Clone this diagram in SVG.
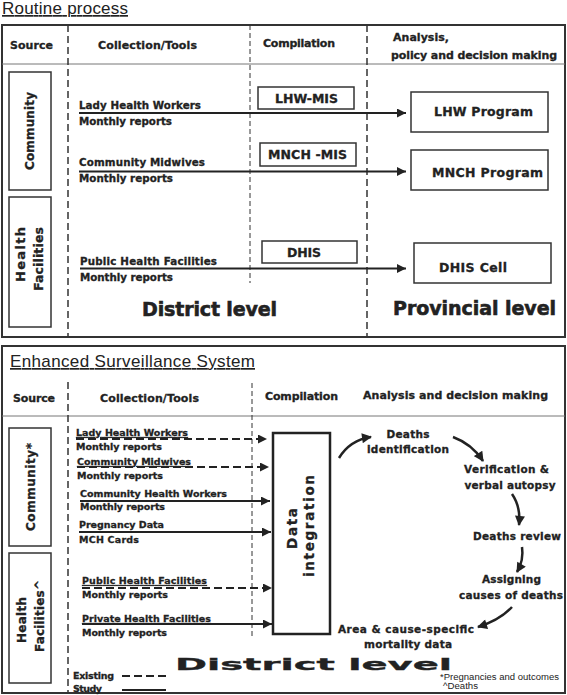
<svg xmlns="http://www.w3.org/2000/svg" width="567" height="695" viewBox="0 0 567 695">
<style>
.b{font-family:"DejaVu Sans","Liberation Sans",sans-serif;font-weight:bold;fill:#222;stroke:#222;stroke-width:0.3}
.h{font-size:11px}
.s{font-size:9.5px}
.st{font-size:10.3px}
.m{font-size:10.5px}
.l{font-size:12.5px}
.big{font-size:19px;stroke-width:0.6}
.r{font-family:"Liberation Sans",Arial,sans-serif;fill:#222}
.ttl{font-size:17px;text-decoration:underline}
.u{text-decoration:underline}
.frame{fill:none;stroke:#333;stroke-width:2}
.hline{stroke:#777;stroke-width:1}
.d1{stroke:#333;stroke-width:1.5;stroke-dasharray:7 4}
.d2{stroke:#333;stroke-width:1;stroke-dasharray:5 3}
.box{fill:#fff;stroke:#333;stroke-width:1.5}
.ln{fill:none;stroke:#222;stroke-width:2}
.dl{fill:none;stroke:#222;stroke-width:2;stroke-dasharray:8 4}
.cv{fill:none;stroke:#222;stroke-width:2.5}
</style>
<defs>
<marker id="ah" viewBox="0 0 10 10" refX="10" refY="5" markerUnits="userSpaceOnUse" markerWidth="9" markerHeight="9" orient="auto">
<path d="M0,0 L10,5 L0,10 Z" fill="#222"/>
</marker>
<marker id="ac" viewBox="0 0 10 10" refX="9" refY="5" markerUnits="userSpaceOnUse" markerWidth="11" markerHeight="10" orient="auto">
<path d="M0,0 L10,5 L0,10 Z" fill="#222"/>
</marker>
</defs>
<rect width="567" height="695" fill="#fff"/>

<!-- ===== Routine process ===== -->
<g id="routine-frame">
<text class="r ttl" x="2" y="14" textLength="126">Routine process</text>
<rect class="frame" x="2" y="25" width="563" height="312"/>
<line class="hline" x1="2" y1="64" x2="565" y2="64"/>
<line class="d1" x1="68" y1="25" x2="68" y2="337"/>
<line class="d2" x1="250" y1="25" x2="250" y2="283"/>
<line class="d1" x1="367" y1="25" x2="367" y2="337"/>
<text class="b h" x="10" y="49" textLength="43">Source</text>
<text class="b h" x="98" y="49" textLength="99">Collection/Tools</text>
<text class="b h" x="263" y="47" textLength="72">Compilation</text>
<text class="b h" x="393" y="41" textLength="56">Analysis,</text>
<text class="b h" x="391" y="59" textLength="166">policy and decision making</text>
<text class="b big" x="142" y="316" textLength="135">District level</text>
<text class="b big" x="393" y="315" textLength="163">Provincial level</text>
</g>

<g id="r-community">
<rect class="box" x="9" y="72" width="42" height="118"/>
<text class="b" font-size="12" transform="translate(34,131) rotate(-90)" text-anchor="middle" textLength="78">Community</text>
</g>
<g id="r-health">
<rect class="box" x="9" y="197" width="42" height="130"/>
<text class="b" font-size="13" transform="translate(25,254.5) rotate(-90)" text-anchor="middle" textLength="55">Health</text>
<text class="b" font-size="12.5" transform="translate(43,259) rotate(-90)" text-anchor="middle" textLength="64">Facilities</text>
</g>

<g id="r-lhw-src">
<text class="b st" x="79" y="109" textLength="122">Lady Health Workers</text>
<text class="b st" x="79" y="125" textLength="93">Monthly reports</text>
</g>
<g id="r-cm-src">
<text class="b st" x="79" y="166" textLength="126">Community Midwives</text>
<text class="b st" x="79" y="182" textLength="94">Monthly reports</text>
</g>
<g id="r-phf-src">
<text class="b st" x="80" y="265" textLength="137">Public Health Facilities</text>
<text class="b st" x="80" y="281" textLength="93">Monthly reports</text>
</g>

<g id="r-lhwmis">
<rect class="box" x="258" y="87" width="96" height="22"/>
<text class="b l" x="306.5" y="103" text-anchor="middle" textLength="63">LHW-MIS</text>
</g>
<g id="r-mnchmis">
<rect class="box" x="260" y="143" width="96" height="23"/>
<text class="b l" x="307.5" y="159" text-anchor="middle" textLength="79">MNCH -MIS</text>
</g>
<g id="r-dhis">
<rect class="box" x="262" y="241" width="95" height="22"/>
<text class="b l" x="304" y="257" text-anchor="middle" textLength="34">DHIS</text>
</g>
<g id="r-lhwprog">
<rect class="box" x="411" y="92" width="137" height="40"/>
<text class="b l" x="483.5" y="116" text-anchor="middle" textLength="99">LHW Program</text>
</g>
<g id="r-mnchprog">
<rect class="box" x="411" y="150" width="137" height="40"/>
<text class="b l" x="487.5" y="177" text-anchor="middle" textLength="111">MNCH Program</text>
</g>
<g id="r-dhiscell">
<rect class="box" x="414" y="243" width="137" height="40"/>
<text class="b l" x="473" y="272" text-anchor="middle" textLength="68">DHIS Cell</text>
</g>

<!-- ===== Enhanced Surveillance System ===== -->
<g id="ess-frame">
<rect class="frame" x="2" y="346" width="563" height="347"/>
<text class="r ttl" x="10" y="367" textLength="245">Enhanced Surveillance System</text>
<line class="hline" x1="2" y1="416" x2="565" y2="416"/>
<line class="d1" x1="68" y1="382" x2="68" y2="692"/>
<line class="d2" x1="252" y1="383" x2="252" y2="637"/>
<text class="b h" x="13" y="402" textLength="42">Source</text>
<text class="b h" x="100" y="402" textLength="99">Collection/Tools</text>
<text class="b h" x="265" y="400" textLength="73">Compilation</text>
<text class="b h" x="363" y="399" textLength="185">Analysis and decision making</text>
<text class="b" font-size="15.5" stroke-width="0.9" x="175" y="670" textLength="277" lengthAdjust="spacingAndGlyphs">District level</text>
<text class="r" font-size="8.5" x="440" y="680" textLength="119" lengthAdjust="spacingAndGlyphs">*Pregnancies and outcomes</text>
<text class="r" font-size="8.5" x="443" y="689" textLength="35" lengthAdjust="spacingAndGlyphs">^Deaths</text>
</g>

<g id="legend">
<text class="b s" x="73" y="679" textLength="41">Existing</text>
<line class="dl" x1="122" y1="676" x2="166" y2="676" stroke-dasharray="7 4"/>
<text class="b s" x="73" y="692" textLength="29">Study</text>
<line class="ln" x1="122" y1="690" x2="166" y2="690"/>
</g>

<g id="e-community">
<rect class="box" x="9" y="428" width="42" height="118"/>
<text class="b" font-size="12" transform="translate(35,487) rotate(-90)" text-anchor="middle" textLength="88">Community*</text>
</g>
<g id="e-health">
<rect class="box" x="9" y="553" width="42" height="130"/>
<text class="b" font-size="12" transform="translate(26,620) rotate(-90)" text-anchor="middle" textLength="46">Health</text>
<text class="b" font-size="12" transform="translate(44,616) rotate(-90)" text-anchor="middle" textLength="72">Facilities^</text>
</g>

<g id="e-lhw-src">
<text class="b s u" x="76" y="436" textLength="112">Lady Health Workers</text>
<text class="b s" x="76" y="450" textLength="86">Monthly reports</text>
</g>
<g id="e-cm-src">
<text class="b s u" x="77" y="465" textLength="114">Community Midwives</text>
<text class="b s" x="77" y="479" textLength="86">Monthly reports</text>
</g>
<g id="e-chw-src">
<text class="b s" x="80" y="497" textLength="147">Community Health Workers</text>
<text class="b s" x="80" y="510" textLength="85">Monthly reports</text>
</g>
<g id="e-preg-src">
<text class="b s" x="79" y="528" textLength="85">Pregnancy Data</text>
<text class="b s" x="79" y="543" textLength="60">MCH Cards</text>
</g>
<g id="e-phf-src">
<text class="b s u" x="82" y="584" textLength="125">Public Health Facilities</text>
<text class="b s" x="82" y="598" textLength="86">Monthly reports</text>
</g>
<g id="e-prhf-src">
<text class="b s u" x="82" y="622" textLength="129">Private Health Facilities</text>
<text class="b s" x="82" y="636" textLength="85">Monthly reports</text>
</g>

<g id="e-data-integration">
<rect x="273" y="433" width="57" height="201" fill="#fff" stroke="#222" stroke-width="2.5"/>
<text class="b" font-size="13.5" transform="translate(297,528.5) rotate(-90)" text-anchor="middle" textLength="41">Data</text>
<text class="b" font-size="13.5" transform="translate(314,526) rotate(-90)" text-anchor="middle" textLength="102">integration</text>
</g>

<g id="e-deaths-id">
<text class="b m" x="408" y="438" text-anchor="middle" textLength="43">Deaths</text>
<text class="b m" x="408" y="453" text-anchor="middle" textLength="82">identification</text>
</g>
<g id="e-verification">
<text class="b m" x="506.5" y="473" text-anchor="middle" textLength="85">Verification &amp;</text>
<text class="b m" x="510" y="489" text-anchor="middle" textLength="91">verbal autopsy</text>
</g>
<g id="e-review">
<text class="b m" x="517" y="540" text-anchor="middle" textLength="88">Deaths review</text>
</g>
<g id="e-assigning">
<text class="b m" x="511.5" y="583" text-anchor="middle" textLength="59">Assigning</text>
<text class="b m" x="511" y="599" text-anchor="middle" textLength="104">causes of deaths</text>
</g>
<g id="e-mortality">
<text class="b m" x="406" y="633" text-anchor="middle" textLength="136">Area &amp; cause-specific</text>
<text class="b m" x="408" y="648" text-anchor="middle" textLength="88">mortality data</text>
</g>

<g id="connectors">
<line class="ln" x1="79" y1="113" x2="406" y2="113" marker-end="url(#ah)"/>
<line class="ln" x1="79" y1="171.5" x2="406" y2="171.5" marker-end="url(#ah)"/>
<line class="ln" x1="80" y1="268.5" x2="406" y2="268.5" marker-end="url(#ah)"/>
<line class="dl" x1="76" y1="439" x2="267" y2="439" marker-end="url(#ah)"/>
<line class="dl" x1="77" y1="467" x2="269" y2="467" marker-end="url(#ah)"/>
<line class="ln" x1="80" y1="501" x2="270" y2="501" marker-end="url(#ah)"/>
<line class="ln" x1="79" y1="532" x2="271" y2="532" marker-end="url(#ah)"/>
<line class="dl" x1="82" y1="588" x2="272" y2="588" marker-end="url(#ah)"/>
<line class="ln" x1="82" y1="624" x2="272" y2="624" marker-end="url(#ah)"/>
<path class="cv" d="M339,458 Q350,440 371,437" marker-end="url(#ac)"/>
<path class="cv" d="M453,437 Q472,444 483,461" marker-end="url(#ac)"/>
<path class="cv" d="M512,494 Q521,507 519,525" marker-end="url(#ac)"/>
<path class="cv" d="M522,547 Q524,560 517,572" marker-end="url(#ac)"/>
<path class="cv" d="M512,607 Q500,620 478,627" marker-end="url(#ac)"/>
</g>
</svg>
